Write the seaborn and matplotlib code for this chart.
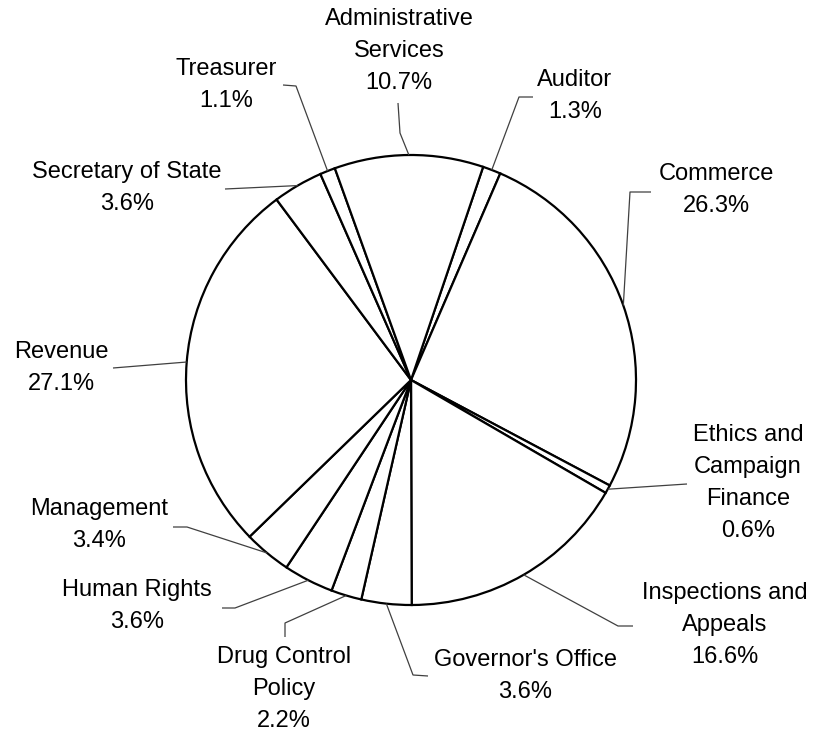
import matplotlib
matplotlib.use("Agg")
import matplotlib.pyplot as plt
import seaborn as sns
import numpy as np

# ---- data ----
departments = ["Auditor", "Commerce", "Ethics and\nCampaign\nFinance", "Inspections and\nAppeals",
               "Governor's Office", "Drug Control\nPolicy", "Human Rights", "Management",
               "Revenue", "Secretary of State", "Treasurer", "Administrative\nServices"]
shares = [1.3, 26.3, 0.6, 16.6, 3.6, 2.2, 3.6, 3.4, 27.1, 3.6, 1.1, 10.7]

# ---- layout (pixel positions of labels and leader-line elbows) ----
W, H = 814, 734
label_pos = [(575, 96), (716, 190), (748, 483), (725, 625), (525, 676), (284, 689),
             (137, 606), (99, 525), (61, 368), (127, 188), (226, 85), (399, 51)]
leader_pts = [
    [(519, 97), (533, 97)],
    [(630, 192), (651, 192)],
    [(687, 484)],
    [(618, 626), (633, 626)],
    [(413, 675), (428, 676)],
    [(285, 623), (285, 637)],
    [(235, 608), (222, 608)],
    [(187, 527), (173, 527)],
    [(113, 368)],
    [(225, 189)],
    [(296, 86), (283, 85)],
    [(400, 133), (398, 103)],
]

sns.set_theme(style="white")
plt.rcParams['font.family'] = ['Liberation Sans', 'DejaVu Sans']

fig = plt.figure(figsize=(W / 100, H / 100), dpi=100)
ax = fig.add_axes([0, 0, 1, 1])

def P(x, y):
    return x, H - y

cx, cy = P(411, 380)
R = 225
wedges, _ = ax.pie(shares, startangle=71.3, counterclock=False, center=(cx, cy), radius=R,
                   colors=["white"] * len(shares),
                   wedgeprops=dict(edgecolor="black", linewidth=1.6))

for w, lab, v, (tx, ty), pts in zip(wedges, departments, shares, label_pos, leader_pts):
    mid = np.deg2rad((w.theta1 + w.theta2) / 2)
    ax0 = cx + R * np.cos(mid)
    ay0 = cy + R * np.sin(mid)
    xs = [ax0] + [P(*p)[0] for p in pts]
    ys = [ay0] + [P(*p)[1] for p in pts]
    ax.plot(xs, ys, color="#404040", linewidth=0.9, solid_capstyle="butt")
    ax.text(*P(tx, ty), f"{lab}\n{v:.1f}%", ha="center", va="center", multialignment="center",
            fontsize=17, linespacing=1.58, color="black")

ax.set_xlim(0, W)
ax.set_ylim(0, H)
ax.set_aspect("equal")
ax.axis("off")
fig.savefig("out.png", dpi=100, facecolor="white")
